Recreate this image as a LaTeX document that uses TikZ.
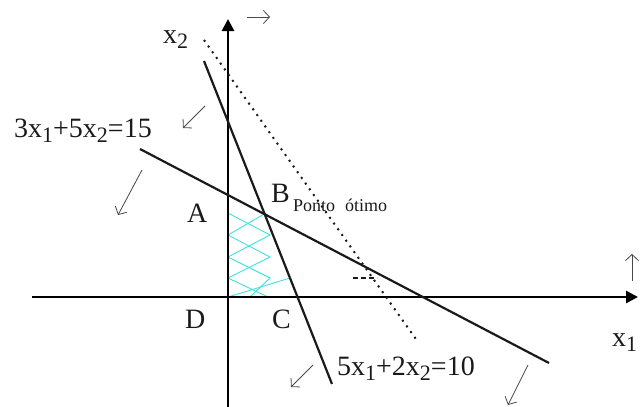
\documentclass[tikz,border=0pt]{standalone}
\usepackage{fontspec}
\setmainfont{Liberation Serif}
\usetikzlibrary{arrows.meta}
\newcommand\lsub[1]{\raisebox{-0.2em}{\fontsize{22}{22}\selectfont #1}}
\definecolor{hatch}{HTML}{3FE0E0}
\definecolor{ink}{HTML}{1A1A1A}
\tikzset{
  axis/.style={line width=2.8pt, -{Triangle[length=12pt,width=12pt]}},
  constraint/.style={line width=2.2pt, ink},
  dir/.style={line width=0.8pt, ink!80, -{Straight Barb[length=6pt,width=13pt]}},
  lbl/.style={inner sep=0pt, anchor=base west, font=\fontsize{28}{28}\selectfont, text=ink},
  hatchline/.style={hatch, line width=0.9pt},
}
\begin{document}
\begin{tikzpicture}[x=1pt,y=-1pt]
\useasboundingbox (0,0) rectangle (643,407);
% axes
\coordinate (x1s) at (32,297);
\coordinate (x1e) at (638,297);
\coordinate (x2s) at (228,407);
\coordinate (x2e) at (228,19);
% constraint endpoints
\coordinate (l1s) at (204,61);
\coordinate (l1e) at (332,384);
\coordinate (l2s) at (140,149);
\coordinate (l2e) at (549,363);
\coordinate (ds) at (204,40);
\coordinate (de) at (418,342);
% hatch
\draw[hatchline] (228,213) -- (270,235) -- (228,257) -- (270,278) -- (250,297);
\draw[hatchline] (266,213) -- (228,235) -- (270,257) -- (228,278) -- (268,297);
\draw[hatchline] (228,297) -- (290,278);
% axes
\draw[axis] (x1s) -- (x1e);
\draw[axis] (x2s) -- (x2e);
% constraints
\draw[constraint] (l1s) -- (l1e);
\draw[constraint] (l2s) -- (l2e);
% objective (dotted)
\draw[ink, line width=2pt, dash pattern=on 2pt off 5pt] (ds) -- (de);
\coordinate (ms) at (353,278);
\coordinate (me) at (377,278);
\draw[ink, line width=1.8pt, dash pattern=on 5pt off 3pt] (ms) -- (me);
% direction arrows
\coordinate (a1s) at (247,17); \coordinate (a1e) at (270,17);
\coordinate (a2s) at (205,106); \coordinate (a2e) at (183,128);
\coordinate (a3s) at (142,170); \coordinate (a3e) at (118,215);
\coordinate (a4s) at (313,365); \coordinate (a4e) at (291,387);
\coordinate (a5s) at (528,365); \coordinate (a5e) at (508,405);
\coordinate (a6s) at (632,281); \coordinate (a6e) at (632,254);
\draw[dir] (a1s) -- (a1e);
\draw[dir] (a2s) -- (a2e);
\draw[dir] (a3s) -- (a3e);
\draw[dir] (a4s) -- (a4e);
\draw[dir] (a5s) -- (a5e);
\draw[dir] (a6s) -- (a6e);
% labels
\node[lbl] (lx2) at (163,43) {x\lsub{2}};
\node[lbl] (lx1) at (612,346) {x\lsub{1}};
\node[lbl] (eq1) at (14,137) {3x\lsub{1}+5x\lsub{2}=15};
\node[lbl] (eq2) at (337,375) {5x\lsub{1}+2x\lsub{2}=10};
\node[lbl] (lA) at (187,222) {A};
\node[lbl] (lD) at (185,328) {D};
\node[lbl] (lC) at (272,328) {C};
\node[lbl] (lB) at (271,202) {B};
\node[lbl, font=\fontsize{18}{18}\selectfont] (lopt) at (293,211) {Ponto\hspace{10pt}ótimo};
\end{tikzpicture}
\end{document}
